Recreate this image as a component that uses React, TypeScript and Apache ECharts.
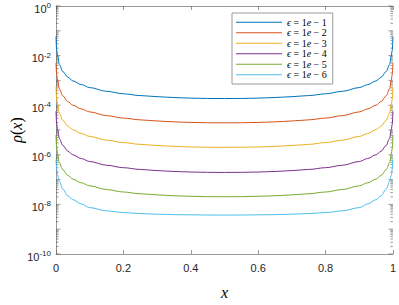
import React, { useEffect, useRef } from 'react';
import * as echarts from 'echarts';

const xValues = [0, 0.002, 0.005, 0.01, 0.02, 0.035, 0.05, 0.075, 0.1, 0.15, 0.2, 0.25, 0.3, 0.35, 0.4, 0.45, 0.5,
  0.55, 0.6, 0.65, 0.7, 0.75, 0.8, 0.85, 0.9, 0.925, 0.95, 0.965, 0.98, 0.99, 0.995, 0.998, 1];

const rhoEps1 = [5.89e-2, 1.66e-2, 9.77e-3, 4.37e-3, 2.29e-3, 1.35e-3, 9.55e-4, 6.76e-4, 5.13e-4, 3.63e-4, 2.88e-4, 2.45e-4, 2.21e-4, 2.04e-4, 1.93e-4, 1.87e-4, 1.86e-4,
  1.87e-4, 1.93e-4, 2.04e-4, 2.21e-4, 2.45e-4, 2.88e-4, 3.63e-4, 5.13e-4, 6.76e-4, 9.55e-4, 1.35e-3, 2.29e-3, 4.37e-3, 9.77e-3, 1.66e-2, 5.89e-2];
const rhoEps2 = [5.13e-3, 1.74e-3, 1.02e-3, 4.56e-4, 2.40e-4, 1.41e-4, 1.00e-4, 7.08e-5, 5.36e-5, 3.80e-5, 3.02e-5, 2.57e-5, 2.31e-5, 2.13e-5, 2.02e-5, 1.96e-5, 1.95e-5,
  1.96e-5, 2.02e-5, 2.13e-5, 2.31e-5, 2.57e-5, 3.02e-5, 3.80e-5, 5.36e-5, 7.08e-5, 1.00e-4, 1.41e-4, 2.40e-4, 4.56e-4, 1.02e-3, 1.74e-3, 5.13e-3];
const rhoEps3 = [5.50e-4, 1.78e-4, 1.05e-4, 4.68e-5, 2.46e-5, 1.45e-5, 1.03e-5, 7.26e-6, 5.50e-6, 3.90e-6, 3.10e-6, 2.64e-6, 2.37e-6, 2.19e-6, 2.07e-6, 2.01e-6, 2.00e-6,
  2.01e-6, 2.07e-6, 2.19e-6, 2.37e-6, 2.64e-6, 3.10e-6, 3.90e-6, 5.50e-6, 7.26e-6, 1.03e-5, 1.45e-5, 2.46e-5, 4.68e-5, 1.05e-4, 1.78e-4, 5.50e-4];
const rhoEps4 = [5.75e-5, 1.74e-5, 1.02e-5, 4.56e-6, 2.40e-6, 1.41e-6, 1.00e-6, 7.08e-7, 5.36e-7, 3.80e-7, 3.02e-7, 2.57e-7, 2.31e-7, 2.13e-7, 2.02e-7, 1.96e-7, 1.95e-7,
  1.96e-7, 2.02e-7, 2.13e-7, 2.31e-7, 2.57e-7, 3.02e-7, 3.80e-7, 5.36e-7, 7.08e-7, 1.00e-6, 1.41e-6, 2.40e-6, 4.56e-6, 1.02e-5, 1.74e-5, 5.75e-5];
const rhoEps5 = [6.31e-6, 1.82e-6, 1.07e-6, 4.77e-7, 2.51e-7, 1.48e-7, 1.05e-7, 7.41e-8, 5.61e-8, 3.98e-8, 3.16e-8, 2.69e-8, 2.42e-8, 2.23e-8, 2.12e-8, 2.05e-8, 2.04e-8,
  2.05e-8, 2.12e-8, 2.23e-8, 2.42e-8, 2.69e-8, 3.16e-8, 3.98e-8, 5.61e-8, 7.41e-8, 1.05e-7, 1.48e-7, 2.51e-7, 4.77e-7, 1.07e-6, 1.82e-6, 6.31e-6];
const rhoEps6 = [6.46e-7, 2.63e-7, 1.48e-7, 8.32e-8, 4.17e-8, 2.24e-8, 1.55e-8, 1.05e-8, 7.41e-9, 5.50e-9, 4.68e-9, 4.27e-9, 4.03e-9, 3.87e-9, 3.79e-9, 3.73e-9, 3.72e-9,
  3.73e-9, 3.79e-9, 3.87e-9, 4.03e-9, 4.27e-9, 4.68e-9, 5.50e-9, 7.41e-9, 1.05e-8, 1.55e-8, 2.24e-8, 4.17e-8, 8.32e-8, 1.48e-7, 2.63e-7, 6.46e-7];

const seriesData = [rhoEps1, rhoEps2, rhoEps3, rhoEps4, rhoEps5, rhoEps6];
const epsExponents = [1, 2, 3, 4, 5, 6];
const seriesNames = epsExponents.map((k) => `ϵ = 1e − ${k}`);
const seriesColors = ['#0072BD', '#D95319', '#EDB120', '#7E2F8E', '#77AC30', '#4DBEEE'];

const yMin = 1e-10;
const yMax = 1;
const decadeExponents = [-10, -9, -8, -7, -6, -5, -4, -3, -2, -1];
const yLabelExponents = [0, -2, -4, -6, -8, -10];
const minorMultipliers = [2, 3, 4, 5, 6, 7, 8, 9];

const axisColor = '#9a9a9a';
const tickColor = '#555555';

export default function App() {
  const ref = useRef<HTMLDivElement>(null);
  useEffect(() => {
    const chart = echarts.init(ref.current as HTMLDivElement, undefined, { renderer: 'svg' });
    const minorTickData: number[][] = [];
    decadeExponents.forEach((e) => {
      minorMultipliers.forEach((m) => minorTickData.push([0, m * Math.pow(10, e)]));
    });
    const majorTickData: number[][] = decadeExponents.concat([0]).map((e) => [0, Math.pow(10, e)]);

    const lineSeries = seriesData.map((vals, i) => ({
      type: 'line',
      name: seriesNames[i],
      data: xValues.map((x, j) => [x, vals[j]]),
      showSymbol: false,
      symbol: 'none',
      smooth: 0.35,
      smoothMonotone: 'x',
      lineStyle: { color: seriesColors[i], width: 1 },
      itemStyle: { color: seriesColors[i] },
      xAxisIndex: 0,
      yAxisIndex: 0,
      z: 3,
    }));

    const tickSeries = (data: number[][], len: number, withLabels: boolean) => ({
      type: 'custom',
      xAxisIndex: 0,
      yAxisIndex: 0,
      data,
      encode: { x: 0, y: 1 },
      clip: false,
      silent: true,
      z: 1,
      renderItem: (params: any, api: any) => {
        const v = api.value(1);
        const l = api.coord([0, v]);
        const r = api.coord([1, v]);
        const st = { stroke: tickColor, lineWidth: 0.6 };
        const children: any[] = [
          { type: 'line', shape: { x1: l[0], y1: l[1], x2: l[0] + len, y2: l[1] }, style: st },
          { type: 'line', shape: { x1: r[0] - len, y1: r[1], x2: r[0], y2: r[1] }, style: st },
        ];
        if (withLabels) {
          const e = Math.round(Math.log10(v));
          if (yLabelExponents.indexOf(e) >= 0) {
            children.push({
              type: 'text',
              x: l[0] - 5,
              y: l[1] + 2.5,
              style: {
                text: `{b|10}{s|${e}}`,
                align: 'right',
                verticalAlign: 'middle',
                rich: {
                  b: { fontSize: 11, fill: '#262626', fontFamily: 'Liberation Sans' },
                  s: { fontSize: 8, fill: '#262626', fontFamily: 'Liberation Sans', padding: [0, 0, 6, 0] },
                },
              },
            });
          }
        }
        return { type: 'group', children };
      },
    });

    const option: any = {
      animation: false,
      backgroundColor: '#ffffff',
      textStyle: { fontFamily: 'Liberation Sans' },
      grid: { left: 55, right: 1, top: 6, bottom: 42, containLabel: false },
      legend: {
        data: seriesNames,
        orient: 'vertical',
        left: 232,
        top: 13,
        padding: [4, 6, 4, 4],
        itemGap: 0,
        itemWidth: 46,
        itemHeight: 1,
        itemTextGap: 5,
        icon: 'rect',
        borderColor: '#9a9a9a',
        borderWidth: 1,
        backgroundColor: '#ffffff',
        formatter: (name: string) => {
          const idx = seriesNames.indexOf(name);
          return `{i|ϵ} = 1{i|e} − ${epsExponents[idx]}`;
        },
        textStyle: {
          fontFamily: 'Liberation Serif',
          fontSize: 10,
          color: '#000',
          lineHeight: 10.5,
          rich: {
            i: { fontFamily: 'Liberation Serif', fontStyle: 'italic', fontSize: 10, color: '#000', lineHeight: 10.5 },
          },
        },
      },
      xAxis: [
        {
          type: 'value',
          min: 0,
          max: 1,
          interval: 0.2,
          position: 'bottom',
          name: '{i|x}',
          nameLocation: 'middle',
          nameGap: 30,
          nameTextStyle: {
            rich: { i: { fontFamily: 'Liberation Serif', fontStyle: 'italic', fontSize: 16, color: '#000' } },
          },
          axisLine: { show: true, lineStyle: { color: axisColor, width: 1 } },
          axisTick: { show: true, inside: true, length: 4, lineStyle: { color: tickColor, width: 0.6 } },
          axisLabel: { fontSize: 11, color: '#262626', margin: 8, formatter: (v: number) => `${v}` },
          splitLine: { show: false },
        },
        {
          type: 'value',
          min: 0,
          max: 1,
          interval: 0.2,
          position: 'top',
          axisLine: { show: true, lineStyle: { color: axisColor, width: 1 } },
          axisTick: { show: true, inside: true, length: 4, lineStyle: { color: tickColor, width: 0.6 } },
          axisLabel: { show: false },
          splitLine: { show: false },
        },
      ],
      yAxis: [
        {
          type: 'log',
          logBase: 10,
          min: yMin,
          max: yMax,
          position: 'left',
          name: '{i|ρ}({i|x})',
          nameLocation: 'middle',
          nameGap: 32,
          nameTextStyle: {
            fontFamily: 'Liberation Serif',
            fontSize: 16,
            color: '#000',
            rich: { i: { fontFamily: 'Liberation Serif', fontStyle: 'italic', fontSize: 16, color: '#000' } },
          },
          axisLine: { show: true, lineStyle: { color: axisColor, width: 1 } },
          axisTick: { show: false },
          axisLabel: { show: false },
          splitLine: { show: false },
        },
        {
          type: 'log',
          logBase: 10,
          min: yMin,
          max: yMax,
          position: 'right',
          axisLine: { show: true, lineStyle: { color: axisColor, width: 1 } },
          axisTick: { show: false },
          axisLabel: { show: false },
          splitLine: { show: false },
        },
      ],
      series: [
        ...lineSeries,
        tickSeries(minorTickData, 2.5, false),
        tickSeries(majorTickData, 4.5, true),
      ],
    };
    chart.setOption(option);
    return () => chart.dispose();
  }, []);
  return (
    <div
      ref={ref}
      style={{ position: 'fixed', left: 0, top: 0, width: 399, height: 305, background: '#ffffff' }}
    />
  );
}
